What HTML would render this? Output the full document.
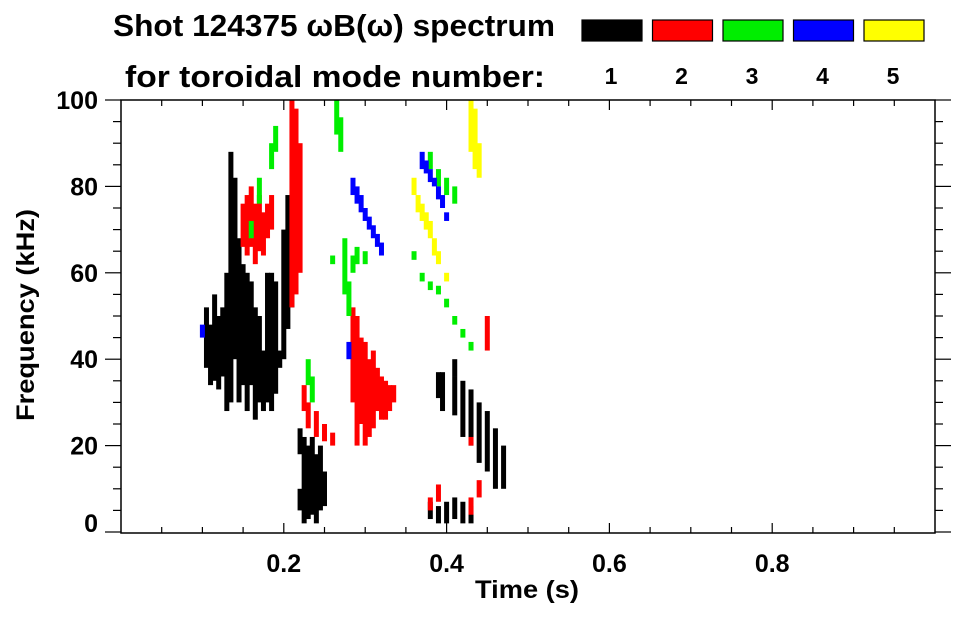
<!DOCTYPE html>
<html><head><meta charset="utf-8"><style>
body{margin:0;background:#fff;width:963px;height:615px;overflow:hidden;font-family:"Liberation Sans",sans-serif}
svg text{font-family:"Liberation Sans",sans-serif;font-weight:bold;fill:#000}
</style></head><body>
<svg id="chart" width="963" height="615" viewBox="0 0 963 615" xmlns="http://www.w3.org/2000/svg">
<text x="113" y="36" font-size="31" textLength="442" lengthAdjust="spacingAndGlyphs">Shot 124375 ωB(ω) spectrum</text>
<text x="125" y="87" font-size="31" textLength="420" lengthAdjust="spacingAndGlyphs">for toroidal mode number:</text>
<g id="legend"></g>
<g id="marks"></g>
<g id="axes"></g>
<text x="527" y="598" font-size="25" text-anchor="middle" textLength="104" lengthAdjust="spacingAndGlyphs">Time (s)</text>
<text transform="translate(34,315) rotate(-90)" font-size="25" text-anchor="middle" textLength="212" lengthAdjust="spacingAndGlyphs">Frequency (kHz)</text>
</svg>
<script>
// data: columns [time (s), freqLow (kHz), freqHigh (kHz)] per toroidal mode
const modeLabels = ["1","2","3","4","5"];
const modeColors = ["#000000","#ff0000","#00ee00","#0000ff","#ffff00"];
const mode1 = [
 [0.105,38,52],[0.11,34,48],[0.115,35,55],[0.12,33,50],[0.125,36,52],[0.13,28,60],[0.135,30,88],[0.14,40,82],
 [0.145,30,68],[0.15,34,62],[0.155,28,60],[0.16,34,58],[0.165,26,52],[0.17,30,50],[0.175,28,42],[0.18,30,60],
 [0.185,28,60],[0.19,32,58],[0.2,40,70],[0.205,47,78],[0.21,52,74],[0.22,18,24],[0.225,2,22],[0.23,3,20],
 [0.235,4,22],[0.24,2,18],[0.245,5,20],[0.25,6,14],[0.39,31,37],[0.395,28,37],[0.41,27,36],[0.42,22,35],
 [0.43,20,33],[0.44,16,30],[0.45,14,28],[0.46,10,24],[0.47,10,20],[0.38,3,7],[0.39,2,6],[0.4,2,7],
 [0.41,3,8],[0.42,2,7],[0.43,2,6],[0.22,5,10],[0.41,36,40],[0.195,38,42]
];
const mode2 = [
 [0.15,66,76],[0.155,64,78],[0.16,66,80],[0.165,62,76],[0.17,65,78],[0.175,64,74],[0.18,68,76],[0.185,70,78],
 [0.21,52,100],[0.215,55,98],[0.22,60,90],[0.225,28,34],[0.23,24,30],[0.24,22,28],[0.25,21,25],[0.26,20,23],
 [0.285,30,52],[0.29,20,50],[0.295,25,45],[0.3,20,44],[0.305,22,40],[0.31,24,42],[0.315,28,38],[0.32,26,36],
 [0.325,26,35],[0.33,28,34],[0.335,30,34],[0.38,5,8],[0.39,7,11],[0.43,4,8],[0.44,8,12],[0.43,20,22],[0.45,42,50]
];
const mode3 = [
 [0.16,68,72],[0.17,76,82],[0.185,84,90],[0.19,88,94],[0.265,92,100],[0.27,88,96],[0.275,55,68],[0.28,50,58],
 [0.285,60,64],[0.29,62,66],[0.3,62,65],[0.23,34,40],[0.235,30,36],[0.36,63,65],[0.37,58,60],[0.38,56,58],
 [0.39,55,57],[0.4,52,54],[0.41,48,50],[0.42,45,47],[0.43,42,44],[0.38,84,88],[0.39,80,84],[0.4,78,82],[0.41,76,80],[0.26,62,64]
];
const mode4 = [
 [0.285,78,82],[0.29,76,80],[0.295,74,78],[0.3,72,75],[0.305,70,73],[0.31,68,71],[0.315,66,69],[0.32,64,67],
 [0.37,84,88],[0.375,83,86],[0.38,81,84],[0.385,80,82],[0.39,77,80],[0.395,75,78],[0.4,72,74],[0.1,45,48],[0.28,40,44]
];
const mode5 = [
 [0.43,88,100],[0.435,84,98],[0.44,82,90],[0.36,78,82],[0.365,74,78],[0.37,72,76],[0.375,70,74],[0.38,68,72],
 [0.385,64,68],[0.39,62,65],[0.4,58,60]
];
const modeData = [mode1,mode2,mode3,mode4,mode5];
const xTicks = [0.2,0.4,0.6,0.8];
const xTickLabels = ["0.2","0.4","0.6","0.8"];
const yTicks = [0,20,40,60,80,100];
const yTickLabels = ["0","20","40","60","80","100"];

const NS="http://www.w3.org/2000/svg";
const L=121,R=935,T=100,B=532;
const xs=t=>L+t*(R-L);
const ys=f=>B-f/100*(B-T);
function mk(tag,attrs,parent){const e=document.createElementNS(NS,tag);for(const k in attrs)e.setAttribute(k,attrs[k]);parent.appendChild(e);return e;}
const marks=document.getElementById('marks'),axes=document.getElementById('axes'),legend=document.getElementById('legend');
modeData.forEach((arr,m)=>{
 arr.forEach((c,i)=>{
  const r=mk('rect',{x:xs(c[0])-2.5,y:ys(c[2]),width:5,height:Math.max(2,ys(c[1])-ys(c[2])),fill:modeColors[m]},marks);
  
  
 });
});
// legend
modeLabels.forEach((lab,i)=>{
 const x0=582+i*70.5;
 const r=mk('rect',{x:x0,y:20,width:60,height:21,fill:modeColors[i],stroke:'#000','stroke-width':1.2},legend);
 
 
 const t=mk('text',{x:x0+29,y:84,'font-size':23,'text-anchor':'middle'},legend);
 t.textContent=lab;
 
 
});
// frame
const fr=mk('rect',{x:L,y:T,width:R-L,height:B-T+1,fill:'none',stroke:'#000','stroke-width':1.5},axes);


// x ticks
for(let t=0.05;t<1;t+=0.05){const x=xs(t);const major=Math.abs(t*5-Math.round(t*5))<1e-6;const len=major?10:6;
 mk('line',{x1:x,x2:x,y1:B+1,y2:B+1-len,stroke:'#000','stroke-width':1.2},axes);
 mk('line',{x1:x,x2:x,y1:T,y2:T+len,stroke:'#000','stroke-width':1.2},axes);}
xTicks.forEach((v,i)=>{const t=mk('text',{x:xs(v),y:572,'font-size':25,'text-anchor':'middle'},axes);t.textContent=xTickLabels[i];
 
 });
// y ticks
for(let f=0;f<=100;f+=5){const y=ys(f);const major=f%20===0;const len=major?16:8;
 mk('line',{x1:L,x2:L-len,y1:y,y2:y,stroke:'#000','stroke-width':1.2},axes);
 mk('line',{x1:R,x2:R+len,y1:y,y2:y,stroke:'#000','stroke-width':1.2},axes);}
yTicks.forEach((v,i)=>{const t=mk('text',{x:98,y:Math.min(ys(v)+9,532),'font-size':25,'text-anchor':'end'},axes);t.textContent=yTickLabels[i];
 
 });
</script>
</body></html>
